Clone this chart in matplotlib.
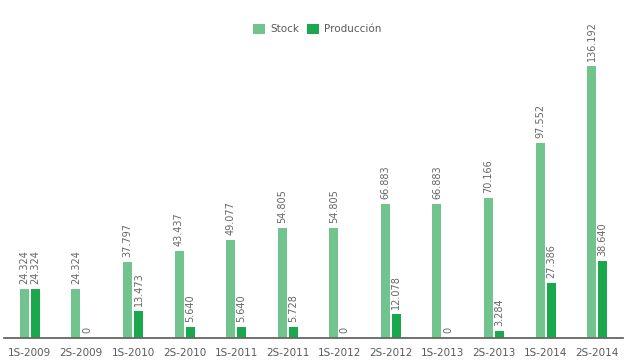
import matplotlib.pyplot as plt
import numpy as np

periodos = ['1S-2009', '2S-2009', '1S-2010', '2S-2010', '1S-2011', '2S-2011',
            '1S-2012', '2S-2012', '1S-2013', '2S-2013', '1S-2014', '2S-2014']
stock = [24324, 24324, 37797, 43437, 49077, 54805, 54805, 66883, 66883, 70166, 97552, 136192]
produccion = [24324, 0, 13473, 5640, 5640, 5728, 0, 12078, 0, 3284, 27386, 38640]

c_stock = '#72c48f'
c_prod = '#1aa84c'
c_text = '#5a5a5a'

fig = plt.figure(figsize=(6.25, 3.62), dpi=100)
ax = fig.add_axes([4/625, 24/362, 619/625, 318/362])

x = np.arange(len(periodos))
w = 0.175
off = 0.107
ax.bar(x - off, stock, w, color=c_stock, label='Stock')
ax.bar(x + off, produccion, w, color=c_prod, label='Producción')

def fmt(v):
    return '{:,}'.format(v).replace(',', '.')

for i in range(len(periodos)):
    ax.text(x[i] - off, stock[i] + 2500, fmt(stock[i]), rotation=90, ha='center',
            va='bottom', fontsize=7, color='#666666')
    ax.text(x[i] + off, produccion[i] + 2500, fmt(produccion[i]), rotation=90, ha='center',
            va='bottom', fontsize=7, color='#666666')

ax.set_xlim(-0.5, len(periodos) - 0.5)
ax.set_ylim(0, 159000)
ax.set_xticks(x)
ax.set_xticklabels(periodos, fontsize=7.5, color=c_text)
ax.tick_params(axis='x', length=0, pad=7)
ax.set_yticks([])
for s in ['top', 'right', 'left']:
    ax.spines[s].set_visible(False)
ax.spines['bottom'].set_color('#666666')
ax.spines['bottom'].set_linewidth(1.3)

fig.legend(loc='upper center', bbox_to_anchor=(0.508, 0.96), ncol=2, frameon=False,
           fontsize=7.5, handlelength=1.1, handleheight=1.1, columnspacing=0.8,
           handletextpad=0.5, labelcolor=c_text)

plt.savefig('out.png', dpi=100)
